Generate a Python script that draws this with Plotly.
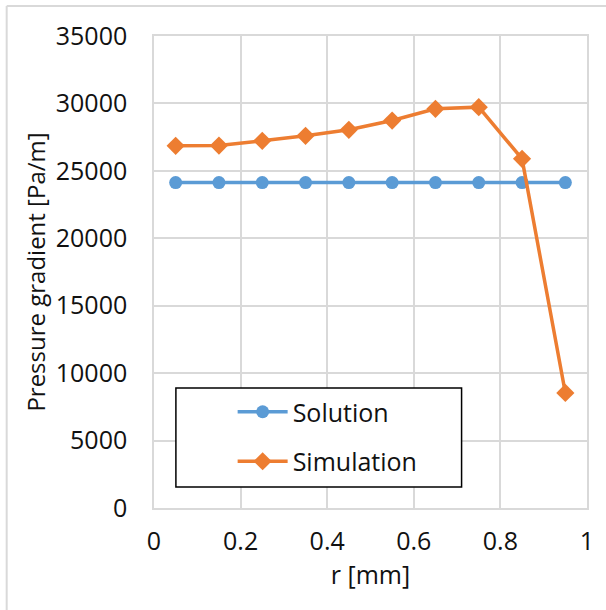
import plotly.graph_objects as go

r_mm = [0.05, 0.15, 0.25, 0.35, 0.45, 0.55, 0.65, 0.75, 0.85, 0.95]
solution = [24130, 24130, 24130, 24130, 24130, 24130, 24130, 24130, 24130, 24130]
simulation = [26855, 26877, 27226, 27596, 28042, 28731, 29599, 29725, 25890, 8530]

x_ticks = [0, 0.2, 0.4, 0.6, 0.8, 1]
x_tick_text = ["0", "0.2", "0.4", "0.6", "0.8", "1"]
y_ticks = [0, 5000, 10000, 15000, 20000, 25000, 30000, 35000]

FONT = "Open Sans, sans-serif"
W, H = 606, 610
ML, MR, MT, MB = 154, 17, 36, 102
GRID = "#d9d9d9"

fig = go.Figure()
fig.add_trace(go.Scatter(
    x=r_mm, y=solution, name="Solution", mode="lines+markers",
    line=dict(color="#5b9bd5", width=3.5),
    marker=dict(symbol="circle", size=13, color="#5b9bd5"),
    legendgroup="a",
))
fig.add_trace(go.Scatter(
    x=r_mm, y=simulation, name="Simulation", mode="lines+markers",
    line=dict(color="#ed7d31", width=3.5),
    marker=dict(symbol="diamond", size=14, color="#ed7d31"),
    legendgroup="b",
))

pw = W - ML - MR
ph = H - MT - MB

def px_x(p):
    return (p - ML) / pw

def px_y(p):
    return (H - MB - p) / ph

shapes = [
    # outer chart border (top and left visible)
    dict(type="line", xref="paper", yref="paper", x0=px_x(6), x1=px_x(W + 5), y0=px_y(6), y1=px_y(6),
         line=dict(color=GRID, width=2)),
    dict(type="line", xref="paper", yref="paper", x0=px_x(6), x1=px_x(6), y0=px_y(6), y1=px_y(H + 5),
         line=dict(color=GRID, width=2)),
    # legend box
    dict(type="rect", xref="paper", yref="paper", x0=px_x(176), x1=px_x(463), y0=px_y(388), y1=px_y(487),
         line=dict(color="black", width=1.5), fillcolor="white", layer="above"),
]

fig.update_layout(
    width=W, height=H,
    margin=dict(l=ML, r=MR, t=MT, b=MB),
    paper_bgcolor="white", plot_bgcolor="white",
    font=dict(family=FONT, size=25, color="#111111"),
    shapes=shapes,
    showlegend=True,
    legend=dict(
        x=px_x(233), y=px_y(389), xanchor="left", yanchor="top",
        bgcolor="rgba(0,0,0,0)", borderwidth=0,
        font=dict(family=FONT, size=25, color="#111111"),
        tracegroupgap=14, itemwidth=50,
    ),
    xaxis=dict(
        range=[0, 1], tickvals=x_ticks, ticktext=x_tick_text,
        showgrid=True, gridcolor=GRID, gridwidth=1.5,
        showline=True, linecolor=GRID, linewidth=1.5, mirror=True,
        zeroline=False, ticks="", ticklen=0, ticklabelstandoff=10,
        title=dict(text="r [mm]", font=dict(family=FONT, size=25), standoff=5),
        tickfont=dict(family=FONT, size=25),
    ),
    yaxis=dict(
        range=[0, 35000], tickvals=y_ticks, tickformat="d",
        showgrid=True, gridcolor=GRID, gridwidth=1.5,
        showline=True, linecolor=GRID, linewidth=1.5, mirror=True,
        zeroline=False, ticks="", ticklen=0, ticklabelstandoff=20,
        title=dict(text="Pressure gradient [Pa/m]", font=dict(family=FONT, size=24), standoff=3),
        tickfont=dict(family=FONT, size=25),
    ),
)

fig.write_html("out.html")
